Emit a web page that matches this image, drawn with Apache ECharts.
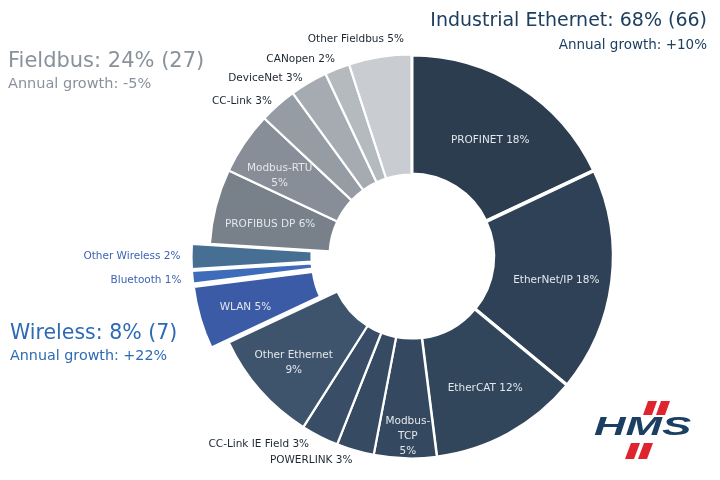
<!DOCTYPE html>
<html><head><meta charset="utf-8">
<script src="https://cdn.jsdelivr.net/npm/echarts@6/dist/echarts.min.js"></script>
<style>html,body{margin:0;padding:0;background:#fff}#c{width:720px;height:480px}</style>
</head><body><div id="c"></div>
<script>
// ---- data ----
const names = ['PROFINET','EtherNet/IP','EtherCAT','Modbus-TCP','POWERLINK','CC-Link IE Field','Other Ethernet',
  'WLAN','Bluetooth','Other Wireless',
  'PROFIBUS DP','Modbus-RTU','CC-Link','DeviceNet','CANopen','Other Fieldbus'];
const shares = [18,18,12,5,3,3,9, 5,1,2, 6,5,3,3,2,5];
const groupOf = ['eth','eth','eth','eth','eth','eth','eth','wl','wl','wl','fb','fb','fb','fb','fb','fb'];
const groupNames = ['Industrial Ethernet','Fieldbus','Wireless'];
const groupShares = [68,24,8];
const groupCounts = [66,27,7];
const groupGrowth = ['+10%','-5%','+22%'];

// ---- style ----
const colors = {
  'PROFINET':'#2c3d50','EtherNet/IP':'#2f4156','EtherCAT':'#31455b','Modbus-TCP':'#34485f',
  'POWERLINK':'#364b62','CC-Link IE Field':'#394e66','Other Ethernet':'#3e546c',
  'WLAN':'#3b5ba7','Bluetooth':'#3e6bba','Other Wireless':'#476f93',
  'PROFIBUS DP':'#78808a','Modbus-RTU':'#878e97','CC-Link':'#969ca4','DeviceNet':'#a5abb1',
  'CANopen':'#b5babf','Other Fieldbus':'#c9cdd2'
};
const borderW = {'PROFINET':4,'EtherNet/IP':3.5,'EtherCAT':3};
const labelLines = {'Modbus-TCP':'Modbus-\nTCP\n','Other Ethernet':'Other Ethernet\n','Modbus-RTU':'Modbus-RTU\n'};
const insideSet = ['PROFINET','EtherNet/IP','EtherCAT','Modbus-TCP','Other Ethernet','WLAN','PROFIBUS DP','Modbus-RTU'];
const radialShift = {'EtherNet/IP':3,'EtherCAT':8,'Modbus-TCP':36,'Other Ethernet':16,'WLAN':12,'PROFIBUS DP':3,'Modbus-RTU':12};
const nudge = {'PROFINET':[1,6],'EtherNet/IP':[-2,5],'EtherCAT':[0,-2],'Modbus-TCP':[2,-1],'Other Ethernet':[3,0],
  'WLAN':[2,2],'PROFIBUS DP':[2,5],'Modbus-RTU':[-2,8],
  'Other Fieldbus':[30,-12],'CANopen':[5,-4],'DeviceNet':[2,1],'CC-Link':[3,1],
  'CC-Link IE Field':[-3,2],'POWERLINK':[4,4],'Bluetooth':[0,2]};
const CX = 411.5, CY = 256.5;
const FONT = 'DejaVu Sans';

const data = names.map((n,i)=>{
  const inside = insideSet.includes(n);
  return {
    name: n, value: shares[i],
    selected: groupOf[i]==='wl',
    itemStyle: {color: colors[n], borderWidth: borderW[n] || 2.2},
    label: inside ? {position:'inside', color:'#e3e7ec'} :
      {position:'outside', color: groupOf[i]==='wl' ? '#3d64b3' : '#1c2631'},
    labelLine: {show:false, length:6, length2:0}
  };
});

const chart = echarts.init(document.getElementById('c'), null, {renderer:'canvas'});
chart.setOption({
  animation:false,
  series:[{
    type:'pie',
    center:[CX, CY],
    radius:[82, 202],
    startAngle:90,
    clockwise:true,
    selectedMode:'multiple',
    selectedOffset:18,
    avoidLabelOverlap:false,
    itemStyle:{borderColor:'#fff', borderWidth:2.2},
    emphasis:{disabled:true},
    label:{
      fontFamily:FONT, fontSize:10.5, lineHeight:15,
      formatter: p => (labelLines[p.name] || (p.name+' ')) + p.value + '%'
    },
    labelLayout: function(p){
      const n = names[p.dataIndex];
      const r = p.labelRect;
      const lx = r.x + r.width/2 - CX, ly = r.y + r.height/2 - CY;
      const d = Math.sqrt(lx*lx+ly*ly) || 1;
      const s = radialShift[n] || 0;
      const g = nudge[n] || [0,0];
      return {dx: s*lx/d + g[0], dy: s*ly/d + g[1]};
    },
    data: data
  }],
  graphic:[
    {type:'text', right:13, top:12, style:{text:groupNames[0]+': '+groupShares[0]+'% ('+groupCounts[0]+')', font:'19px "'+FONT+'"', fill:'#1c3f60'}},
    {type:'text', right:13, top:38, style:{text:'Annual growth: '+groupGrowth[0], font:'13.5px "'+FONT+'"', fill:'#1c3f60'}},
    {type:'text', left:8, top:51, style:{text:groupNames[1]+': '+groupShares[1]+'% ('+groupCounts[1]+')', font:'21px "'+FONT+'"', fill:'#89929b'}},
    {type:'text', left:8, top:77, style:{text:'Annual growth: '+groupGrowth[1], font:'14.5px "'+FONT+'"', fill:'#89929b'}},
    {type:'text', left:10, top:323, style:{text:groupNames[2]+': '+groupShares[2]+'% ('+groupCounts[2]+')', font:'20.5px "'+FONT+'"', fill:'#2d6ab4'}},
    {type:'text', left:10, top:349, style:{text:'Annual growth: '+groupGrowth[2], font:'14.3px "'+FONT+'"', fill:'#2d6ab4'}},
    // HMS logo
    {type:'polygon', shape:{points:[[648,401],[657,401],[652,415],[643,415]]}, style:{fill:'#e0242e'}},
    {type:'polygon', shape:{points:[[661,401],[670,401],[665,415],[656,415]]}, style:{fill:'#e0242e'}},
    {type:'polygon', shape:{points:[[631,443],[640,443],[634,459],[625,459]]}, style:{fill:'#e0242e'}},
    {type:'polygon', shape:{points:[[644,443],[653,443],[647,459],[638,459]]}, style:{fill:'#e0242e'}},
    {type:'text', x:594, y:416, scaleX:1.75, style:{text:'HMS', font:'italic 900 25px "Liberation Sans"', fill:'#1b3f63'}}
  ]
});
</script></body></html>
